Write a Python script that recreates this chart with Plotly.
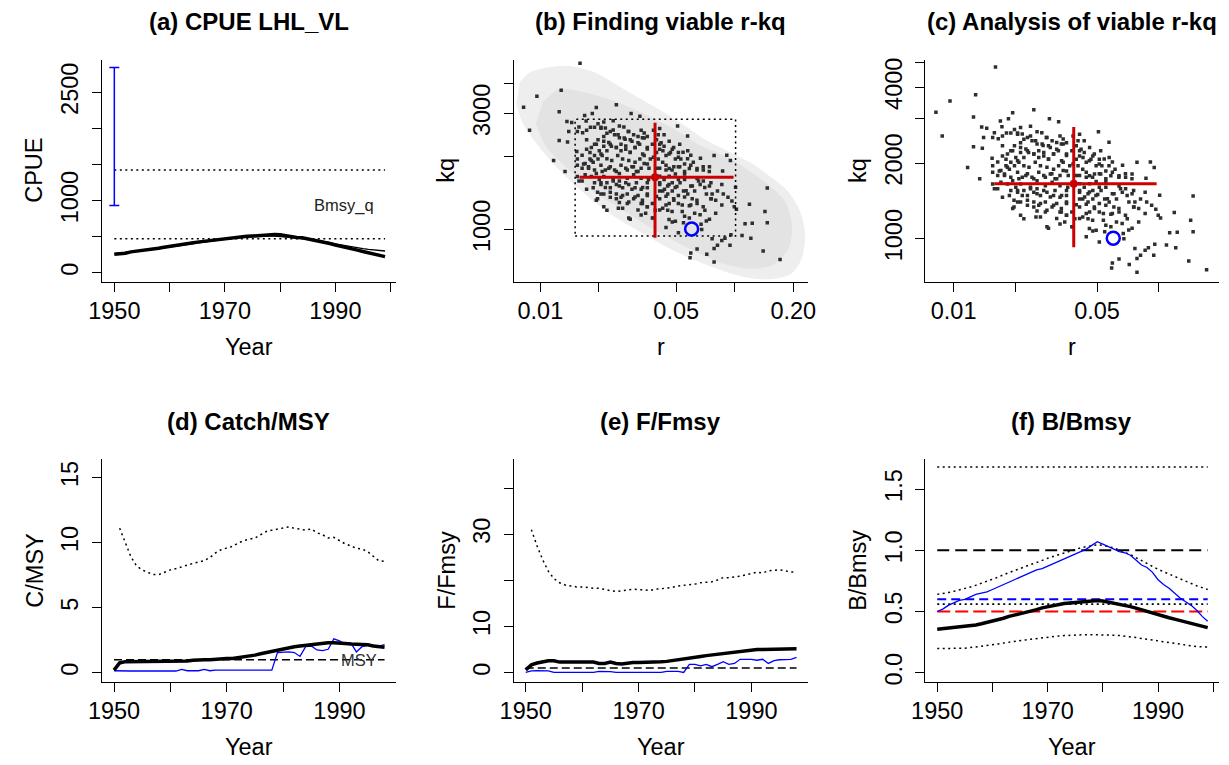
import plotly.graph_objects as go
import math

W, H = 1229, 765
FONT = "Liberation Sans, Arial, Helvetica, sans-serif"

# ---------------- data ----------------
# (a) CPUE
years_a = list(range(1950, 2000))
cpue_obs = [257, 262, 272, 290, 298, 305, 318, 330, 340, 355, 365, 372, 385, 400, 412,
            425, 435, 445, 455, 465, 475, 482, 490, 498, 505, 510, 518, 525, 530, 532,
            528, 515, 495, 488, 485, 470, 455, 445, 428, 405, 385, 370, 350, 335, 315,
            295, 275, 258, 240, 224]
cpue_pred = [265, 272, 280, 288, 297, 306, 316, 326, 337, 348, 360, 371, 383, 395, 407,
             419, 431, 442, 453, 463, 472, 480, 488, 495, 500, 504, 507, 509, 510, 508,
             503, 497, 491, 485, 478, 470, 460, 449, 435, 418, 400, 385, 370, 357, 345,
             334, 324, 315, 308, 302]
cpue_prior_lo, cpue_prior_hi = 934, 2843
bmsyq_hi, bmsyq_lo = 1424, 471

# (b),(c) r-kq
all_rk_outline = [(0.00783, 4000), (0.0088, 4395), (0.01068, 4605), (0.0140, 4680), (0.0191, 4395),
                  (0.0251, 3880), (0.0329, 3420), (0.0431, 3020), (0.0566, 2623), (0.0714, 2313),
                  (0.0902, 2106), (0.1183, 1888), (0.149, 1665), (0.188, 1424), (0.216, 1180),
                  (0.229, 948), (0.220, 762), (0.196, 662), (0.155, 627), (0.118, 635),
                  (0.0902, 672), (0.0687, 727), (0.0545, 786), (0.0431, 863), (0.0329, 978),
                  (0.0251, 1109), (0.0191, 1297), (0.01457, 1565), (0.01154, 1888), (0.00951, 2278),
                  (0.00814, 2748), (0.00753, 3316)]
all_rk_core = [(0.01027, 3316), (0.01248, 3758), (0.01701, 3643), (0.02507, 3316), (0.03555, 2927),
               (0.04848, 2582), (0.06611, 2208), (0.08674, 2010), (0.1138, 1774), (0.1493, 1516),
               (0.1812, 1297), (0.1958, 1041), (0.1884, 837), (0.1552, 715), (0.1183, 693),
               (0.0867, 727), (0.0661, 798), (0.0485, 905), (0.03555, 1041), (0.02606, 1218),
               (0.0191, 1424), (0.0140, 1774), (0.01068, 2208), (0.00951, 2749)]
viable_rk = [
    (0.0160, 4820), (0.0096, 3530), (0.0128, 3740), (0.0082, 3180), (0.0088, 2560), (0.0125, 3050),
    (0.0194, 3170), (0.0246, 3260), (0.0293, 3000), (0.0325, 2920), (0.0185, 3000), (0.0137, 2780),
    (0.0145, 2750), (0.0169, 2940), (0.0172, 2790), (0.0140, 2525), (0.0125, 2320), (0.0138, 2290),
    (0.0117, 1920), (0.0134, 1730), (0.0154, 2090), (0.0155, 2525), (0.0165, 2500), (0.0173, 2560),
    (0.0158, 2640), (0.0181, 2630), (0.0190, 2630), (0.0205, 2630), (0.0216, 2610), (0.0229, 2525),
    (0.0237, 2800), (0.0255, 2660), (0.0269, 2640), (0.0283, 2525), (0.0302, 2450), (0.0290, 2340),
    (0.0273, 2350), (0.0255, 2380), (0.0241, 2450), (0.0212, 2410), (0.0198, 2340), (0.0190, 2240),
    (0.0183, 2170), (0.0173, 2135), (0.0164, 2020), (0.0155, 1950), (0.0167, 1860), (0.0177, 1810),
    (0.0187, 1890), (0.0198, 1950), (0.0208, 2012), (0.0220, 2105), (0.0232, 2200), (0.0246, 2170),
    (0.0260, 2240), (0.0275, 2135), (0.0290, 2070), (0.0307, 2170), (0.0318, 2270), (0.0335, 2380),
    (0.0355, 2410), (0.0330, 2560), (0.0342, 2490), (0.0396, 2340), (0.0418, 2270), (0.0433, 2200),
    (0.0411, 2135), (0.0396, 2070), (0.0404, 1950), (0.0426, 1890), (0.0443, 2012), (0.0467, 2070),
    (0.0495, 1950), (0.0486, 1810), (0.0460, 1780), (0.0521, 1810), (0.0573, 2105), (0.0594, 2020),
    (0.0666, 1960), (0.0572, 2420), (0.0508, 2660), (0.0783, 2012), (0.0910, 2020), (0.0950, 1920),
    (0.0866, 1740), (0.0741, 1810), (0.0689, 1755), (0.0640, 1780), (0.0584, 1780), (0.0552, 1690),
    (0.0513, 1603), (0.0477, 1555), (0.0452, 1510), (0.0426, 1440), (0.0411, 1531), (0.0433, 1603),
    (0.0460, 1655), (0.0495, 1690), (0.0640, 1620), (0.0689, 1580), (0.0741, 1510), (0.0715, 1398),
    (0.0757, 1337), (0.0798, 1318), (0.0858, 1531), (0.0873, 1398), (0.0923, 1357), (0.0967, 1310),
    (0.101, 1490), (0.102, 1210), (0.119, 1270), (0.147, 1480), (0.143, 1185), (0.147, 1065),
    (0.123, 1060), (0.113, 1055), (0.109, 945), (0.0956, 950), (0.0890, 920), (0.0858, 900),
    (0.0815, 860), (0.0783, 835), (0.0945, 860), (0.0765, 915), (0.0718, 790), (0.0783, 735),
    (0.0640, 830), (0.0594, 800), (0.0589, 765), (0.0676, 1000), (0.0671, 1050), (0.0584, 1115),
    (0.0545, 1065), (0.0495, 1080), (0.0443, 1018), (0.0513, 970), (0.0477, 1072), (0.171, 752),
    (0.140, 815), (0.121, 920), (0.0741, 1100), (0.0798, 1166), (0.0858, 1260), (0.0994, 1240),
    (0.0702, 1200), (0.0640, 1277), (0.0604, 1337), (0.0573, 1398), (0.0545, 1440), (0.0513, 1380),
    (0.0486, 1318), (0.0460, 1277), (0.0443, 1370), (0.0396, 1365), (0.0377, 1277), (0.0355, 1240),
    (0.0377, 1115), (0.0290, 1100), (0.0252, 1221), (0.0220, 1200), (0.0194, 1318), (0.0212, 1398),
    (0.0229, 1357), (0.0246, 1398), (0.0260, 1357), (0.0280, 1398), (0.0302, 1337), (0.0318, 1380),
    (0.0335, 1318), (0.0330, 1463), (0.0307, 1485), (0.0285, 1531), (0.0265, 1485), (0.0246, 1531),
    (0.0237, 1603), (0.0220, 1555), (0.0205, 1531), (0.0190, 1555), (0.0173, 1463), (0.0158, 1580),
    (0.0155, 1650), (0.0164, 1785), (0.0170, 1677), (0.0183, 1650), (0.0194, 1700), (0.0208, 1730),
    (0.0225, 1785), (0.0241, 1755), (0.0255, 1700), (0.0275, 1785), (0.0296, 1810), (0.0312, 1730),
    (0.0330, 1785), (0.0355, 1860), (0.0368, 1950), (0.0342, 2012), (0.0325, 1950), (0.0307, 1890),
    (0.0285, 1922), (0.0265, 1950), (0.0250, 2012), (0.0355, 2170), (0.0377, 2240), (0.0360, 1603),
    (0.0355, 1485), (0.0411, 1655), (0.0443, 1755), (0.0396, 1785), (0.0255, 1580), (0.0201, 1603),
    (0.0212, 1650), (0.0229, 1485), (0.0187, 1485), (0.0205, 1398), (0.0411, 1440), (0.0452, 1398),
    (0.0537, 1260), (0.0584, 1250), (0.0537, 1185), (0.0622, 1166), (0.0552, 1603), (0.0594, 1510),
    (0.0622, 1440), (0.0664, 1531), (0.0765, 1398), (0.0815, 1440), (0.0477, 1440), (0.0504, 1500),
    (0.0528, 1950), (0.0552, 1860), (0.0612, 1890), (0.0433, 2450), (0.0460, 2306), (0.0477, 2135),
    (0.0521, 2240), (0.0513, 2070), (0.0382, 2560), (0.0404, 2450), (0.0411, 2600), (0.0212, 2766),
    (0.0198, 2720), (0.0225, 2275), (0.0212, 2200), (0.0201, 2105), (0.0190, 2012), (0.0180, 1950),
    (0.0173, 2340), (0.0155, 1837), (0.0180, 2070), (0.0302, 1677), (0.0330, 1625), (0.0280, 1625),
    (0.0355, 1398), (0.0335, 1277), (0.0348, 1166), (0.0390, 1200), (0.0426, 1221), (0.0452, 1200),
    (0.0330, 1145), (0.0255, 1290), (0.0280, 1277),
    (0.0205, 2604), (0.0220, 2489), (0.0237, 2564), (0.0251, 2451), (0.0270, 2378), (0.0285, 2525),
    (0.0296, 2306), (0.0318, 2413), (0.0342, 2378), (0.0212, 2306), (0.0229, 2238), (0.0194, 2238),
    (0.0246, 2171), (0.0260, 2105), (0.0275, 2203), (0.0290, 2075), (0.0307, 2171), (0.0324, 2238),
    (0.0336, 2043), (0.0355, 2140), (0.0382, 1983), (0.0411, 2238), (0.0427, 2105), (0.0459, 2043),
    (0.0485, 2171), (0.0513, 1983), (0.0542, 2075), (0.0572, 1952), (0.0205, 2043), (0.0220, 1952),
    (0.0233, 1922), (0.0183, 1922), (0.0170, 1866), (0.0177, 1783), (0.0190, 1756), (0.0205, 1837),
    (0.0216, 1756), (0.0229, 1811), (0.0246, 1730), (0.0260, 1837), (0.0280, 1756), (0.0301, 1811),
    (0.0318, 1730), (0.0342, 1866), (0.0362, 1783), (0.0411, 1783), (0.0443, 1837), (0.0476, 1756),
    (0.0513, 1811), (0.0552, 1730), (0.0594, 1837), (0.0639, 1756), (0.0688, 1811), (0.0740, 1730),
    (0.0164, 1580), (0.0205, 1556), (0.0216, 1487), (0.0237, 1580), (0.0255, 1510), (0.0275, 1556),
    (0.0296, 1464), (0.0312, 1556), (0.0336, 1487), (0.0355, 1556), (0.0411, 1556), (0.0435, 1464),
    (0.0459, 1532), (0.0494, 1487), (0.0523, 1556), (0.0562, 1443), (0.0605, 1510), (0.0651, 1580),
    (0.0701, 1487), (0.0754, 1556), (0.0197, 1421), (0.0229, 1421), (0.0246, 1337), (0.0265, 1379),
    (0.0285, 1298), (0.0307, 1358), (0.0330, 1278), (0.0355, 1379), (0.0411, 1337), (0.0443, 1259),
    (0.0485, 1337), (0.0513, 1278), (0.0552, 1358), (0.0594, 1259), (0.0639, 1318), (0.0688, 1240),
    (0.0754, 1337), (0.0197, 1337), (0.0212, 1240), (0.0265, 1221), (0.0318, 1203), (0.0355, 1240),
    (0.0411, 1203), (0.0476, 1185), (0.0285, 1115), (0.0382, 1115), (0.0459, 1099), (0.0552, 1132),
    (0.0663, 1150), (0.0714, 1082)]
prior_r = [0.0151, 0.101]
prior_kq = [939, 2836]
cmsy_b = dict(r=0.0389, r_lo=0.0159, r_hi=0.0986, kq=1640, kq_lo=925, kq_hi=2748)
cmsy_c = dict(r=0.0385, r_lo=0.0158, r_hi=0.0976, kq=1653, kq_lo=924, kq_hi=2782)
bsm_r, bsm_kq = 0.060, 1005

# (d) catch/MSY and (e) F/Fmsy
years_c = list(range(1950, 1999))
years_u = list(range(1951, 1999))
cmsy_med = [0.2, 0.75, 0.85, 0.85, 0.9, 0.9, 0.9, 0.9, 0.9, 0.9, 0.9, 0.9, 0.9, 0.9,
            0.95, 1.0, 1.0, 1.0, 1.05, 1.05, 1.1, 1.1, 1.15, 1.2,
            1.3, 1.35, 1.45, 1.55, 1.65, 1.75, 1.8, 1.9, 2.0, 2.05,
            2.1, 2.2, 2.2, 2.25, 2.3, 2.3, 2.3, 2.25, 2.2, 2.2,
            2.2, 2.15, 2.05, 2.0, 1.95]
cmsy_upper = [11.1, 10.0, 8.9, 8.2, 7.9, 7.7, 7.55, 7.55, 7.75, 7.9,
              8.0, 8.15, 8.25, 8.4, 8.5, 8.6, 8.85, 9.2, 9.45, 9.55,
              9.7, 9.95, 10.15, 10.25, 10.35, 10.6, 10.85, 10.95, 11.05, 11.15,
              11.2, 11.1, 11.0, 10.95, 11.05, 10.75, 10.6, 10.35, 10.4, 10.15,
              9.9, 9.75, 9.55, 9.5, 9.3, 8.95, 8.6, 8.55]
cmsy_blue = [0.15, 0.13, 0.13, 0.13, 0.13, 0.13, 0.13, 0.13, 0.13, 0.13, 0.13, 0.13,
             0.25, 0.15, 0.15, 0.15, 0.25, 0.15, 0.2, 0.2, 0.15, 0.15,
             0.2, 0.2, 0.2, 0.2, 0.2, 0.2, 0.2,
             1.55, 1.6, 1.6, 1.55, 1.25, 2.0, 2.05, 1.75, 1.7, 1.8,
             2.6, 2.45, 2.2, 2.3, 1.6, 2.0, 2.1, 2.1, 2.05, 2.15]
msy_ref = 1.0
ffmsy_med = [0.6, 1.7, 2.1, 2.3, 2.6, 2.6, 2.3, 2.3, 2.3, 2.3,
             2.3, 2.3, 2.3, 2.0, 2.0, 2.3, 2.0, 1.9, 2.1, 2.2,
             2.2, 2.2, 2.2, 2.2, 2.35, 2.45, 2.6, 2.8, 2.95, 3.1,
             3.3, 3.5, 3.7, 3.85, 4.1, 4.25, 4.35, 4.5, 4.65, 4.8,
             4.95, 5.0, 5.0, 5.05, 5.1, 5.2, 5.2, 5.2, 5.2]
ffmsy_upper = [31.0, 27.5, 24.5, 22.0, 20.4, 19.5, 19.0, 18.8, 18.6, 18.6,
               18.4, 18.3, 18.3, 18.0, 17.8, 17.6, 17.8, 18.0, 18.1, 18.0,
               18.0, 17.8, 18.1, 18.2, 18.3, 18.5, 18.8, 18.9, 19.0, 19.2,
               19.5, 19.6, 19.7, 20.1, 20.6, 20.6, 20.7, 20.9, 21.2, 21.5,
               21.8, 21.6, 22.1, 22.2, 22.3, 22.1, 21.8, 21.8]
ffmsy_blue = [0.05, 0.4, 0.45, 0.45, 0.4, 0.05, 0.05, 0.05, 0.05, 0.05,
              0.05, 0.05, 0.05, 0.3, 0.3, 0.25, 0.05, 0.05, 0.05, 0.05,
              0.05, 0.05, 0.05, 0.05, 0.05, 0.3, 0.3, 0.3, 0.05, 1.8,
              1.8, 1.5, 1.8, 1.3, 1.8, 2.4, 1.8, 2.0, 2.9, 2.9,
              2.9, 2.7, 2.9, 2.0, 2.6, 2.8, 2.9, 2.9, 3.3]
fmsy_ref = 1.0

# (f) B/Bmsy
years_f = list(range(1950, 2000))
bbmsy_blue = [0.50, 0.52, 0.55, 0.57, 0.59, 0.60, 0.62, 0.64, 0.65, 0.66,
              0.68, 0.70, 0.72, 0.74, 0.76, 0.78, 0.80, 0.82, 0.84, 0.85,
              0.87, 0.89, 0.91, 0.93, 0.95, 0.97, 0.99, 1.01, 1.04, 1.07,
              1.05, 1.03, 1.01, 0.99, 0.98, 0.96, 0.92, 0.88, 0.86, 0.82,
              0.76, 0.72, 0.69, 0.65, 0.61, 0.58, 0.55, 0.51, 0.46, 0.42]
bbmsy_med = [0.355, 0.36, 0.365, 0.37, 0.37, 0.375, 0.38, 0.39, 0.40, 0.41,
             0.42, 0.43, 0.445, 0.46, 0.47, 0.485, 0.495, 0.505, 0.515, 0.53,
             0.54, 0.55, 0.56, 0.565, 0.57, 0.575, 0.578, 0.582, 0.586, 0.59,
             0.585, 0.577, 0.568, 0.56, 0.55, 0.54, 0.528, 0.514, 0.50, 0.487,
             0.473, 0.46, 0.449, 0.438, 0.427, 0.416, 0.405, 0.395, 0.38, 0.368]
bbmsy_upper = [0.64, 0.645, 0.655, 0.665, 0.675, 0.69, 0.70, 0.715, 0.73, 0.745,
               0.76, 0.78, 0.80, 0.82, 0.835, 0.85, 0.87, 0.885, 0.90, 0.92,
               0.935, 0.95, 0.965, 0.98, 0.995, 1.01, 1.02, 1.03, 1.04, 1.045,
               1.04, 1.03, 1.02, 1.00, 0.985, 0.965, 0.94, 0.915, 0.89, 0.865,
               0.845, 0.825, 0.805, 0.79, 0.77, 0.75, 0.73, 0.71, 0.695, 0.68]
bbmsy_lower = [0.197, 0.197, 0.197, 0.197, 0.198, 0.20, 0.205, 0.21, 0.217, 0.222,
               0.228, 0.235, 0.242, 0.25, 0.256, 0.262, 0.268, 0.274, 0.28, 0.286,
               0.29, 0.295, 0.30, 0.303, 0.306, 0.308, 0.31, 0.311, 0.311, 0.311,
               0.31, 0.308, 0.306, 0.304, 0.30, 0.294, 0.287, 0.28, 0.273, 0.268,
               0.262, 0.256, 0.249, 0.242, 0.235, 0.228, 0.221, 0.213, 0.211, 0.21]
b_k_ref = 1.68
b_bmsy_ref = 1.0
b_blue_ref = 0.6
b_dot_ref = 0.56
b_red_ref = 0.5

# ---------------- layout helpers ----------------
cols = [(89.5, 388.5), (509.0, 808.0), (927.7, 1226.7)]
rows = [(58.0, 282.0), (461.0, 685.0)]
BLACK, BLUE, RED, DRED = "#000000", "#0000FF", "#FF0000", "#CC0000"
DOT = "2px,3.5px"
TICKF = dict(family=FONT, size=23.5, color="black")

fig = go.Figure()

def ax(i):
    return ("x" if i == 1 else f"x{i}"), ("y" if i == 1 else f"y{i}")

def line(i, x, y, color=BLACK, width=1.3, dash="solid", shape="linear"):
    xa, ya = ax(i)
    fig.add_trace(go.Scatter(x=x, y=y, mode="lines", xaxis=xa, yaxis=ya, hoverinfo="skip",
                             line=dict(color=color, width=width, dash=dash, shape=shape),
                             showlegend=False))

def axis_dict(dom, anchor, rng, tickvals, ticktext, log=False, yaxis=False):
    d = dict(domain=dom, anchor=anchor, range=rng, tickvals=tickvals, ticktext=ticktext,
             showline=True, linecolor="black", linewidth=1.3, mirror=False,
             ticks="outside", ticklen=9, tickwidth=1.3, tickcolor="black",
             showgrid=False, zeroline=False, tickfont=TICKF, fixedrange=True)
    if log:
        d["type"] = "log"
    if yaxis:
        d["tickangle"] = -90
        d["ticklabelstandoff"] = 4
    else:
        d["tickangle"] = 0
        d["ticklabelstandoff"] = -1
    return d

yr_ticks = [1950, 1960, 1970, 1980, 1990, 2000]
yr_text = ["1950", "", "1970", "", "1990", ""]
specs = [
    (0, 0, [1947.75, 2000.9], [-124, 2953], False, False, yr_ticks, yr_text,
     [0, 500, 1000, 1500, 2000, 2500], ["0", "", "1000", "", "", "2500"]),
    (0, 1, [math.log10(0.00731), math.log10(0.2368)], [math.log10(609), math.log10(4996)], True, True,
     [0.01, 0.02, 0.05, 0.1, 0.2], ["0.01", "", "0.05", "", "0.20"],
     [1000, 2000, 3000, 4000, 5000], ["1000", "", "3000", "", ""]),
    (0, 2, [math.log10(0.00726), math.log10(0.196)], [math.log10(674), math.log10(5158)], True, True,
     [0.01, 0.02, 0.05, 0.1], ["0.01", "", "0.05", ""],
     [1000, 2000, 3000, 4000, 5000], ["1000", "2000", "", "4000", ""]),
    (1, 0, [1947.85, 1999.95], [-0.686, 16.39], False, False, yr_ticks, yr_text,
     [0, 5, 10, 15], ["0", "5", "10", "15"]),
    (1, 1, [1947.9, 1999.95], [-1.94, 46.24], False, False, yr_ticks, yr_text,
     [0, 10, 20, 30, 40], ["0", "10", "", "30", ""]),
    (1, 2, [1947.8, 2001.0], [-0.073, 1.743], False, False, yr_ticks, yr_text,
     [0, 0.5, 1.0, 1.5], ["0.0", "0.5", "1.0", "1.5"]),
]
layout_axes = {}
for k, (r, c, xr, yr, xl, yl, xt, xtt, yt, ytt) in enumerate(specs, start=1):
    xa, ya = ax(k)
    xdom = [cols[c][0] / W, cols[c][1] / W]
    ydom = [1 - rows[r][1] / H, 1 - rows[r][0] / H]
    layout_axes["xaxis" if k == 1 else f"xaxis{k}"] = axis_dict(xdom, ya, xr, xt, xtt, xl)
    layout_axes["yaxis" if k == 1 else f"yaxis{k}"] = axis_dict(ydom, xa, yr, yt, ytt, yl, True)

# ---------------- (a) ----------------
line(1, [years_a[0], years_a[-1]], [bmsyq_hi, bmsyq_hi], dash=DOT, width=1.5)
line(1, [years_a[0], years_a[-1]], [bmsyq_lo, bmsyq_lo], dash=DOT, width=1.5)
line(1, years_a, cpue_pred, width=1.3)
line(1, years_a, cpue_obs, width=3.5)
mid = (cpue_prior_lo + cpue_prior_hi) / 2
fig.add_trace(go.Scatter(x=[years_a[0]], y=[mid], mode="markers", xaxis="x", yaxis="y",
                         marker=dict(size=1, color="rgba(0,0,0,0)"), hoverinfo="skip", showlegend=False,
                         error_y=dict(type="data", symmetric=False, array=[cpue_prior_hi - mid],
                                      arrayminus=[mid - cpue_prior_lo], color=BLUE, thickness=1.5, width=5)))

# ---------------- (b) / (c) ----------------
for poly, col in ((all_rk_outline, "#EEEEEE"), (all_rk_core, "#E3E3E3")):
    fig.add_trace(go.Scatter(x=[p[0] for p in poly], y=[p[1] for p in poly],
                             mode="lines", fill="toself", fillcolor=col, xaxis="x2", yaxis="y2",
                             line=dict(color=col, width=1, shape="spline", smoothing=0.8),
                             hoverinfo="skip", showlegend=False))
for i in (2, 3):
    xa, ya = ax(i)
    fig.add_trace(go.Scatter(x=[p[0] for p in viable_rk], y=[p[1] for p in viable_rk], mode="markers",
                             xaxis=xa, yaxis=ya, hoverinfo="skip", showlegend=False,
                             marker=dict(symbol="square", size=3.5, color="#2E2E2E", line=dict(width=0))))
line(2, [prior_r[0], prior_r[1], prior_r[1], prior_r[0], prior_r[0]],
     [prior_kq[0], prior_kq[0], prior_kq[1], prior_kq[1], prior_kq[0]], dash=DOT, width=1.5)
for i, cm in ((2, cmsy_b), (3, cmsy_c)):
    xa, ya = ax(i)
    line(i, [cm["r_lo"], cm["r_hi"]], [cm["kq"], cm["kq"]], color=DRED, width=3)
    line(i, [cm["r"], cm["r"]], [cm["kq_lo"], cm["kq_hi"]], color=DRED, width=3)
    fig.add_trace(go.Scatter(x=[cm["r"]], y=[cm["kq"]], mode="markers", xaxis=xa, yaxis=ya,
                             marker=dict(symbol="circle", size=8, color=DRED), hoverinfo="skip", showlegend=False))
    fig.add_trace(go.Scatter(x=[bsm_r], y=[bsm_kq], mode="markers", xaxis=xa, yaxis=ya,
                             marker=dict(symbol="circle-open", size=13, color=BLUE, line=dict(width=2.5, color=BLUE)),
                             hoverinfo="skip", showlegend=False))

# ---------------- (d) ----------------
line(4, years_u, cmsy_upper, dash=DOT, width=1.5)
line(4, [years_c[0], years_c[-1]], [msy_ref, msy_ref], dash="8px,4px", width=1.5)
line(4, years_c, cmsy_blue, color=BLUE, width=1.3)
line(4, years_c, cmsy_med, width=3.5)

# ---------------- (e) ----------------
line(5, years_u, ffmsy_upper, dash=DOT, width=1.5)
line(5, [years_c[0], years_c[-1]], [fmsy_ref, fmsy_ref], dash="8px,4px", width=1.5)
line(5, years_c, ffmsy_blue, color=BLUE, width=1.3)
line(5, years_c, ffmsy_med, width=3.5)

# ---------------- (f) ----------------
ends = [years_f[0], years_f[-1]]
line(6, ends, [b_k_ref, b_k_ref], dash=DOT, width=1.5)
line(6, ends, [b_bmsy_ref, b_bmsy_ref], dash="12px,6px", width=2)
line(6, ends, [b_blue_ref, b_blue_ref], color=BLUE, dash="9px,5px", width=1.8)
line(6, ends, [b_dot_ref, b_dot_ref], dash=DOT, width=1.8)
line(6, ends, [b_red_ref, b_red_ref], color=RED, dash="13px,5px", width=1.8)
line(6, years_f, bbmsy_upper, dash=DOT, width=1.5)
line(6, years_f, bbmsy_lower, dash=DOT, width=1.5)
line(6, years_f, bbmsy_blue, color=BLUE, width=1.3)
line(6, years_f, bbmsy_med, width=3.5)

# ---------------- annotations ----------------
titles = ["(a) CPUE LHL_VL", "(b) Finding viable r-kq", "(c) Analysis of viable r-kq",
          "(d) Catch/MSY", "(e) F/Fmsy", "(f) B/Bmsy"]
ylabels = ["CPUE", "kq", "kq", "C/MSY", "F/Fmsy", "B/Bmsy"]
xlabels = ["Year", "r", "r", "Year", "Year", "Year"]
ann = []
for k, (r, c, *_rest) in enumerate(specs):
    cx = (cols[c][0] + cols[c][1]) / 2 / W
    cy = 1 - (rows[r][0] + rows[r][1]) / 2 / H
    ann.append(dict(text="<b>" + titles[k] + "</b>", x=cx, y=1 - (rows[r][0] - 38) / H, xref="paper", yref="paper",
                    showarrow=False, xanchor="center", yanchor="middle", font=dict(family=FONT, size=24, color="black")))
    ann.append(dict(text=ylabels[k], x=(cols[c][0] - 69) / W, y=cy, xref="paper", yref="paper", textangle=-90,
                    showarrow=False, xanchor="center", yanchor="middle", font=dict(family=FONT, size=23.5, color="black")))
    ann.append(dict(text=xlabels[k], x=cx, y=1 - (rows[r][1] + 66) / H, xref="paper", yref="paper",
                    showarrow=False, xanchor="center", yanchor="middle", font=dict(family=FONT, size=23.5, color="black")))
ann.append(dict(text="Bmsy_q", x=1991.5, y=934, xref="x", yref="y", showarrow=False, xanchor="center",
                yanchor="middle", font=dict(family=FONT, size=16.5, color="#222222")))
ann.append(dict(text="MSY", x=1993.4, y=msy_ref, xref="x4", yref="y4", showarrow=False, xanchor="center",
                yanchor="middle", font=dict(family=FONT, size=16.5, color="#333333")))

fig.update_layout(width=W, height=H, autosize=False, margin=dict(l=0, r=0, t=0, b=0),
                  paper_bgcolor="white", plot_bgcolor="white", showlegend=False,
                  annotations=ann, **layout_axes)

fig.write_html("out.html", config={"displayModeBar": False},
               post_script="document.body.style.margin='0px';")
